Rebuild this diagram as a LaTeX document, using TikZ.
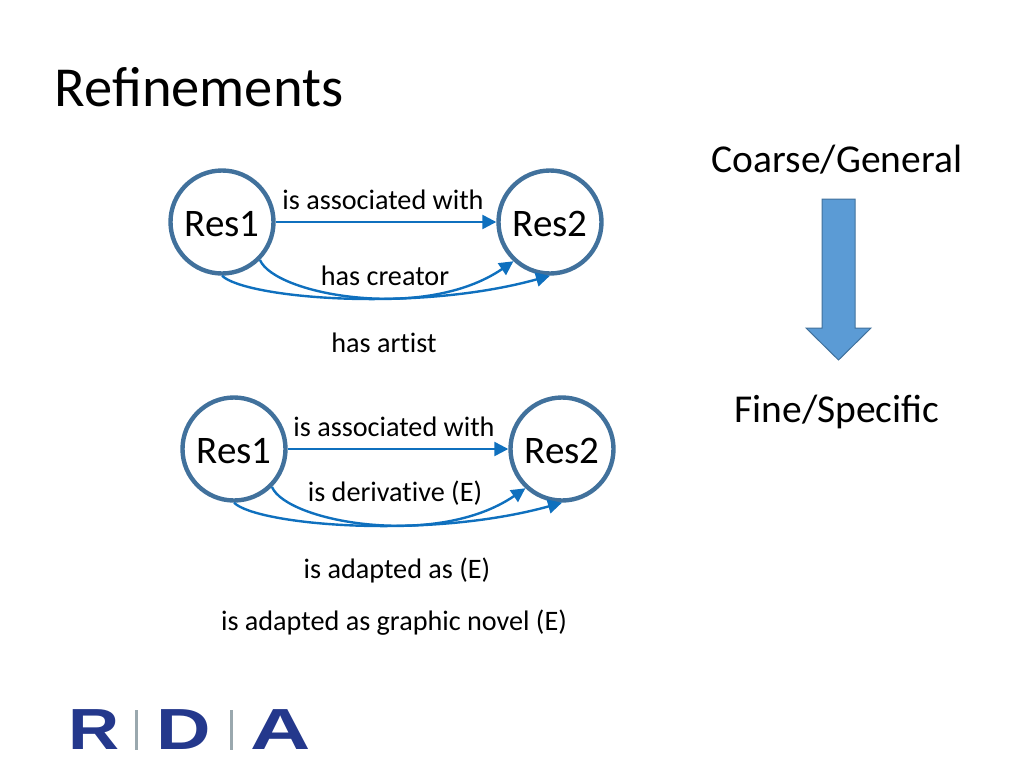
\documentclass[tikz,border=0pt]{standalone}
\usepackage{fontspec}
\setmainfont{Carlito}
\newfontfamily\logofont{Liberation Sans}
\usetikzlibrary{arrows.meta}
\definecolor{ringcol}{HTML}{41719C}
\definecolor{linkcol}{HTML}{0F70BE}
\definecolor{fillcol}{HTML}{5B9BD5}
\definecolor{logocol}{HTML}{24388C}
\definecolor{sepcol}{HTML}{9AA8AE}
\newcommand{\reslabel}[1]{\raisebox{-2pt}[\height][\depth]{#1}}
\tikzset{
 x=1pt,y=-1pt,
 res/.style={circle,draw=ringcol,line width=4.4pt,minimum size=103pt,inner sep=0pt,font=\fontsize{39}{39}\selectfont},
 rel/.style={inner sep=0pt,font=\fontsize{28.2}{32}\selectfont\addfontfeature{Ligatures=NoCommon}},
 link/.style={draw=linkcol,line width=2.4pt,-{Triangle[length=14pt,width=14pt]}},
 big/.style={inner sep=0pt,font=\fontsize{39.5}{44}\selectfont},
 logo/.style={inner sep=0pt,text=logocol,font=\logofont\bfseries\fontsize{58}{58}\selectfont}
}
\begin{document}
\begin{tikzpicture}
\useasboundingbox (0,0) rectangle (1024,768);
\node[inner sep=0pt,font=\fontsize{56.5}{62}\selectfont] (title) at (199,87) {Refinements};
\node[res] (a1) at (222,222) {\reslabel{Res1}};
\node[res] (a2) at (550,222) {\reslabel{Res2}};
\node[res] (b1) at (234,449) {\reslabel{Res1}};
\node[res] (b2) at (562,449) {\reslabel{Res2}};
\draw[link] (a1.east) -- (a2.west);
\draw[link] (a1.-45) .. controls (275,295) and (425,322) .. (a2.-133);
\draw[link] (a1.south) .. controls (245,298) and (415,313) .. (a2.-90);
\draw[link] (b1.east) -- (b2.west);
\draw[link] (b1.-45) .. controls (287,522) and (437,549) .. (b2.-133);
\draw[link] (b1.south) .. controls (257,525) and (427,540) .. (b2.-90);
\node[rel] (t1) at (383,200) {is associated with};
\node[rel] (t2) at (385,276) {has creator};
\node[rel] (t3) at (384,343) {has artist};
\node[rel] (t4) at (394,427) {is associated with};
\node[rel] (t5) at (395,493) {is derivative (E)};
\node[rel] (t6) at (397,570) {is adapted as (E)};
\node[rel] (t7) at (394,623) {is adapted as graphic novel (E)};
\node[big] (coarse) at (837,160) {Coarse/General};
\node[big] (fine) at (837,412) {Fine/Specific};
\draw[draw=ringcol,fill=fillcol,line width=1pt] (822,199) -- (855,199) -- (855,328) -- (871,328) -- (838.5,360) -- (806,328) -- (822,328) -- cycle;
\node[logo,xscale=1.22] (lr) at (94,730) {R};
\node[logo,xscale=1.3] (ld) at (184,730) {D};
\node[logo,xscale=1.44] (la) at (280.5,730) {A};
\fill[sepcol] (135,710) rectangle (138,750);
\fill[sepcol] (230,710) rectangle (233,750);
\end{tikzpicture}
\end{document}
